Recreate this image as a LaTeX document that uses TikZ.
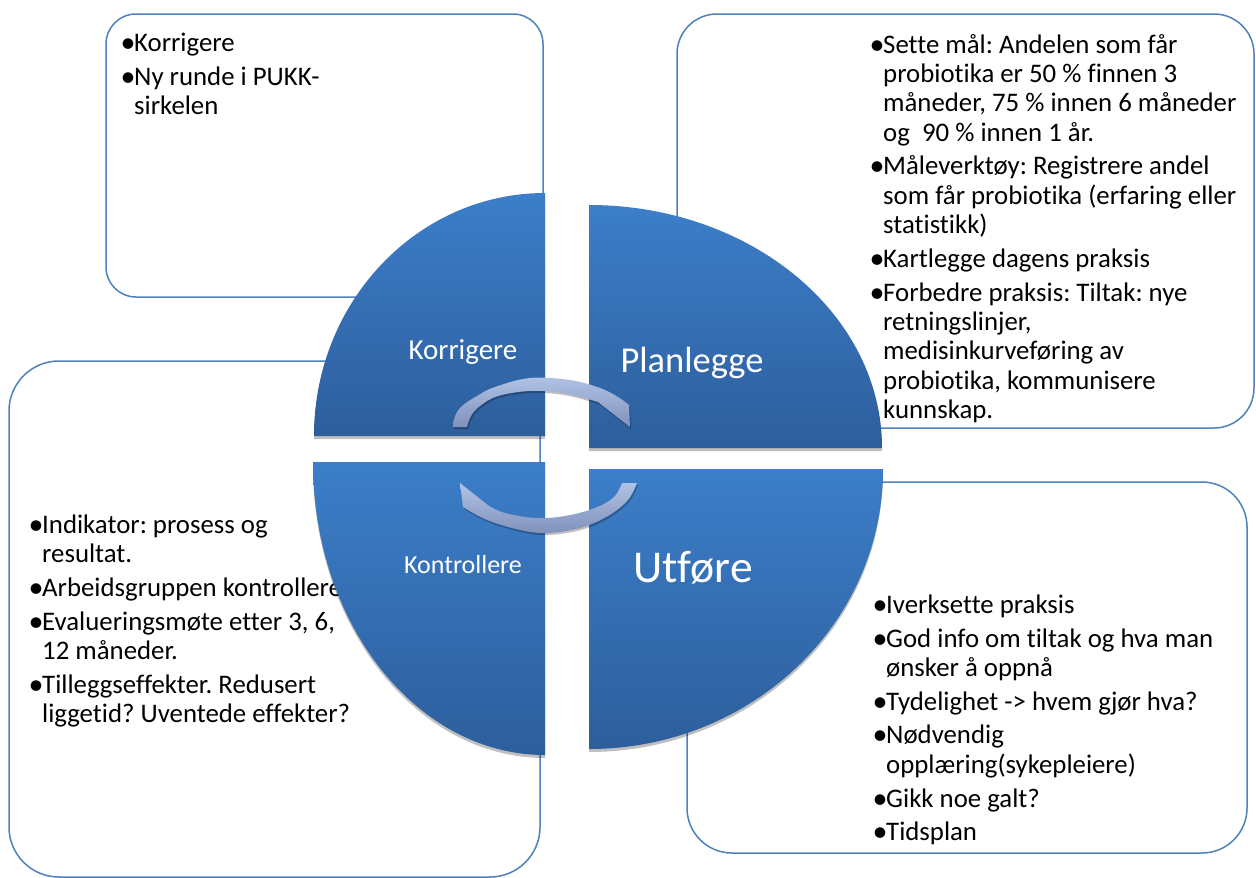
\documentclass[tikz,border=0pt]{standalone}
\usepackage{fontspec}
\setmainfont{Carlito}[Ligatures={TeX,NoCommon}]
\frenchspacing
\usetikzlibrary{shadows}
\definecolor{boxline}{RGB}{79,129,189}
\definecolor{segtop}{RGB}{60,126,201}
\definecolor{segbot}{RGB}{45,94,156}
\definecolor{arrtop}{RGB}{176,194,228}
\definecolor{arrbot}{RGB}{128,146,188}
\newcommand{\bul}{\makebox[12pt][l]{\hspace*{-1.5pt}\raisebox{-1pt}{\fontsize{30}{30}\selectfont •}}}
\newcommand{\ind}{\hspace*{12pt}}
\newcommand{\topstrut}{\rule{0pt}{22pt}}
\begin{document}
\begin{tikzpicture}[x=1pt,y=-1pt,
  notebox/.style={draw=boxline, line width=1.5pt, fill=white},
  notetext/.style={anchor=north west, inner sep=0pt, align=left, text=black,
    font=\fontsize{26.8}{29.3}\selectfont},
  segment/.style={top color=segtop, bottom color=segbot, draw=none,
    drop shadow={shadow xshift=0pt, shadow yshift=-3pt, opacity=0.25, fill=black}},
  seglabel/.style={anchor=base, text=white, inner sep=0pt},
  cyclearrow/.style={top color=arrtop, bottom color=arrbot, draw=none,
    drop shadow={shadow xshift=1pt, shadow yshift=-2pt, opacity=0.25, fill=black}}
]
\useasboundingbox (0,0) rectangle (1256,878);
\fill[white] (0,0) rectangle (1256,878);

% note boxes
\draw[notebox, rounded corners=30pt] (106,14) rectangle (543,297);
\draw[notebox, rounded corners=40pt] (677,14) rectangle (1254,428);
\draw[notebox, rounded corners=50pt] (9,361) rectangle (540,877);
\draw[notebox, rounded corners=45pt] (687,482) rectangle (1247,853);

% note texts
\node[notetext] (tltext) at (122,29) {\topstrut\bul Korrigere\\[4.5pt]
\bul Ny runde i PUKK-\\
\ind sirkelen};

\node[notetext] (trtext) at (871,31) {\topstrut\bul Sette mål: Andelen som får\\
\ind probiotika er 50 \% finnen 3\\
\ind måneder, 75 \% innen 6 måneder\\
\ind og\ \ 90 \% innen 1 år.\\[4.5pt]
\bul Måleverktøy: Registrere andel\\
\ind som får probiotika (erfaring eller\\
\ind statistikk)\\[4.5pt]
\bul Kartlegge dagens praksis\\[4.5pt]
\bul Forbedre praksis: Tiltak: nye\\
\ind retningslinjer,\\
\ind medisinkurveføring av\\
\ind probiotika, kommunisere\\
\ind kunnskap.};

\node[notetext] (bltext) at (30,511) {\topstrut\bul Indikator: prosess og\\
\ind resultat.\\[4.5pt]
\bul Arbeidsgruppen kontrollere\\[4.5pt]
\bul Evalueringsmøte etter 3, 6,\\
\ind 12 måneder.\\[4.5pt]
\bul Tilleggseffekter. Redusert\\
\ind liggetid? Uventede effekter?};

\node[notetext] (brtext) at (874,591) {\topstrut\bul Iverksette praksis\\[4.5pt]
\bul God info om tiltak og hva man\\
\ind ønsker å oppnå\\[4.5pt]
\bul Tydelighet -> hvem gjør hva?\\[4.5pt]
\bul Nødvendig\\
\ind opplæring(sykepleiere)\\[4.5pt]
\bul Gikk noe galt?\\[4.5pt]
\bul Tidsplan};

% quarter segments
\path[segment] (314,436) arc[start angle=180, end angle=90, x radius=231pt, y radius=243pt] -- (545,436) -- cycle;
\path[segment] (589,205) arc[start angle=90, end angle=0, x radius=293pt, y radius=243pt] -- (589,448) -- cycle;
\path[segment] (313,462) arc[start angle=180, end angle=270, x radius=232pt, y radius=293pt] -- (545,462) -- cycle;
\path[segment] (883,469) arc[start angle=0, end angle=-90, x radius=294pt, y radius=280pt] -- (589,469) -- cycle;

% segment labels
\node[seglabel, font=\fontsize{29}{32}\selectfont] (lk) at (463,359) {Korrigere};
\node[seglabel, font=\fontsize{36.5}{40}\selectfont] (lp) at (692,372) {Planlegge};
\node[seglabel, font=\fontsize{26}{29}\selectfont] (lc) at (463,573) {Kontrollere};
\node[seglabel, font=\fontsize{45.5}{50}\selectfont] (lu) at (693,582) {Utføre};

% circular arrows
\path[cyclearrow] (453,427) -- plot[smooth, tension=0.6] coordinates {(453,427) (455,416) (462,406) (477,396) (495,387) (530,378) (570,380) (600,388) (618,397) (629,405)}
  -- (630,427) -- (598,402) -- plot[smooth, tension=0.6] coordinates {(598,402) (563,393) (530,391) (498,396) (480,406) (471,416) (467,427)} -- cycle;
\path[cyclearrow] (460,483) -- (463,507) -- plot[smooth, tension=0.6] coordinates {(463,507) (487,520) (520,530) (547,533) (580,528) (608,516) (628,500) (637,483)}
  -- (622,483) -- plot[smooth, tension=0.6] coordinates {(622,483) (614,497) (595,508) (565,516) (535,518) (505,513) (489,506)} -- cycle;
\end{tikzpicture}
\end{document}
